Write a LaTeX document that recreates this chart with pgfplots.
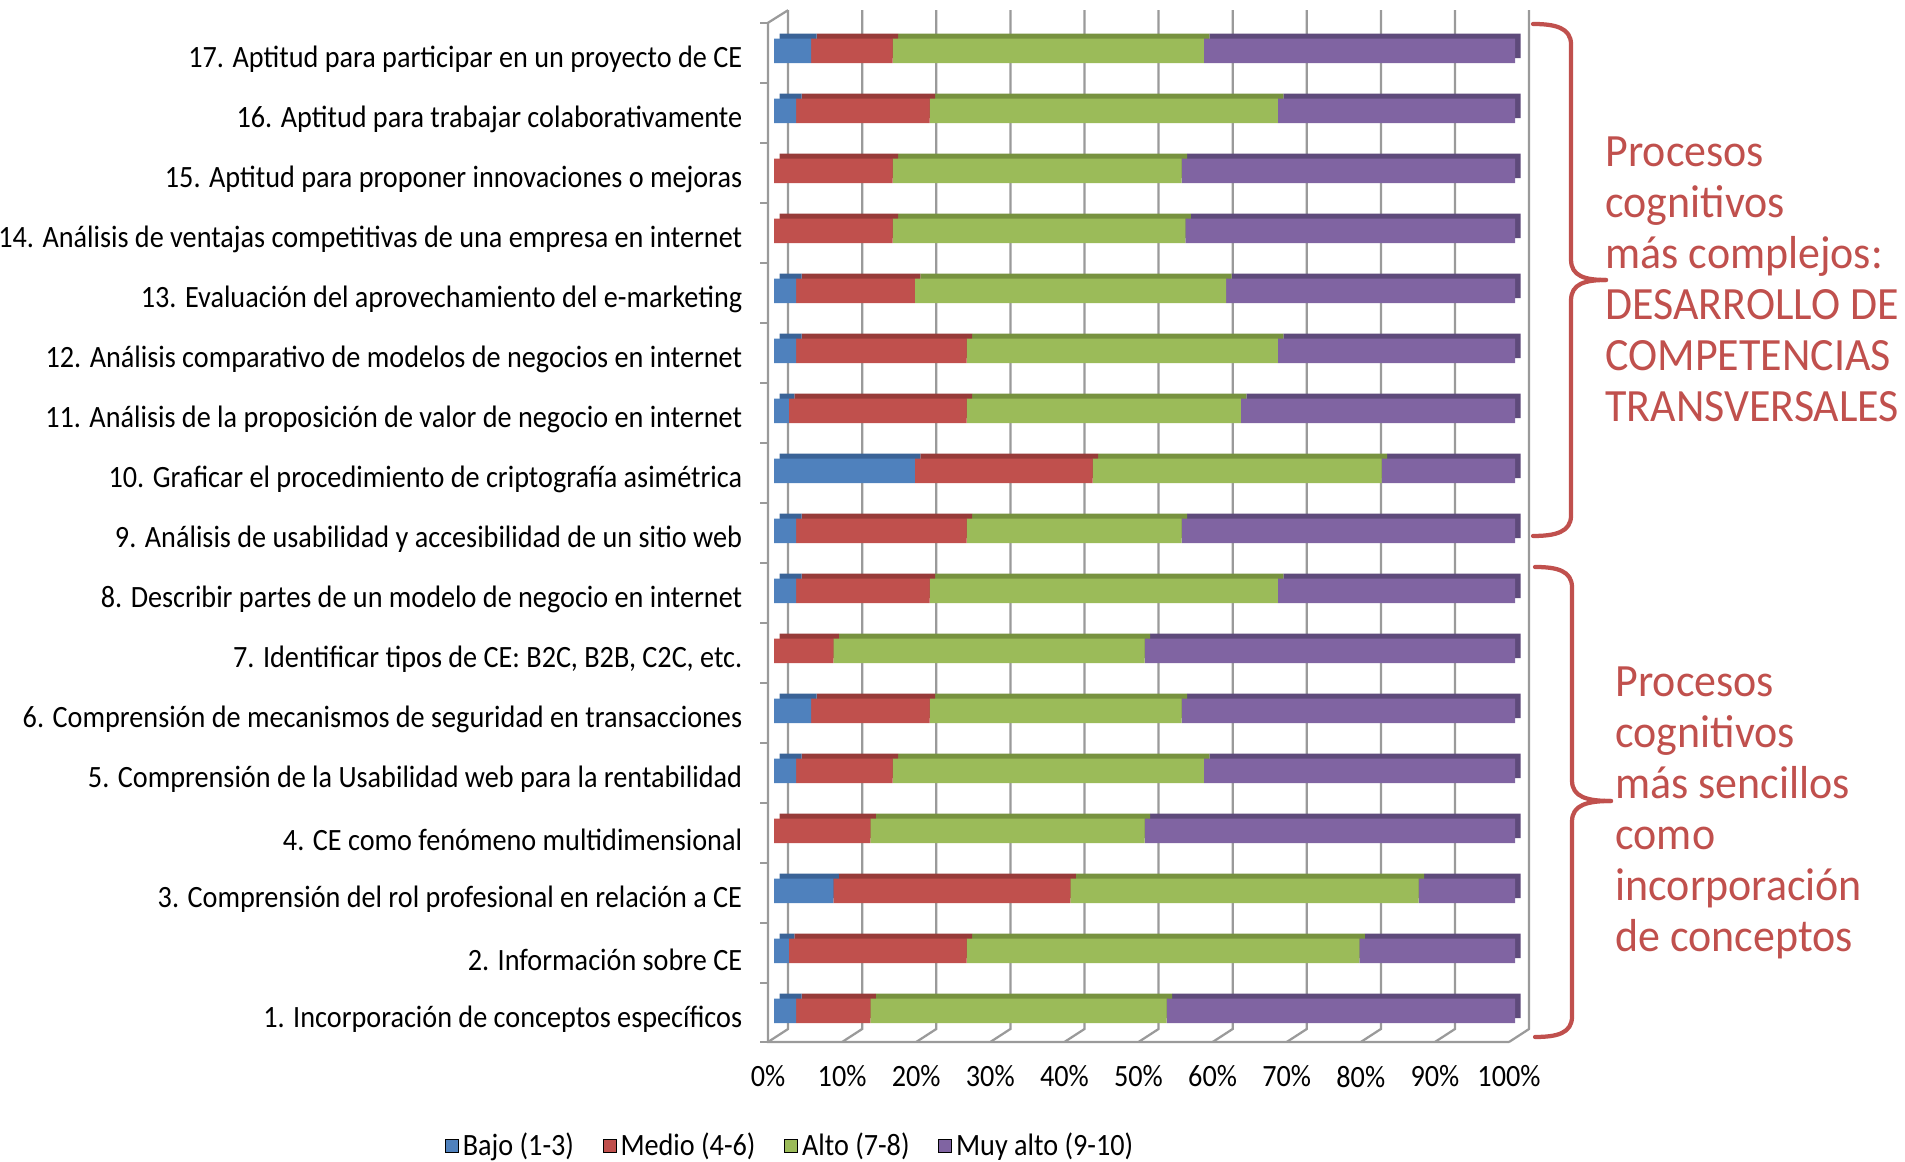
\documentclass[border=0pt]{standalone}
\usepackage{pgfplots}
\pgfplotsset{compat=1.18}
\usepackage{pgfplotstable}
\usepackage{fontspec}
\setmainfont{Carlito}[FakeStretch=0.91]
\newfontfamily\annfont{Carlito}[FakeStretch=0.95]
\definecolor{cB}{HTML}{4F81BD}
\definecolor{cM}{HTML}{C0504D}
\definecolor{cA}{HTML}{9BBB59}
\definecolor{cMA}{HTML}{8064A2}
\definecolor{dB}{HTML}{3A6397}
\definecolor{dM}{HTML}{973B39}
\definecolor{dA}{HTML}{77923F}
\definecolor{dMA}{HTML}{5E4A7B}
\definecolor{gridc}{HTML}{9A9A9A}
\definecolor{annot}{HTML}{C0504D}

\pgfplotstableread{
n b m a ma
1 3 10 40 47
2 2 24 53 21
3 8 32 47 13
4 0 13 37 50
5 3 13 42 42
6 5 16 34 45
7 0 8 42 50
8 3 18 47 32
9 3 23 29 45
10 19 24 39 18
11 2 24 37 37
12 3 23 42 32
13 3 16 42 39
14 0 16 39.5 44.5
15 0 16 39 45
16 3 18 47 32
17 5 11 42 42
}\datatable

\pgfplotsset{
  base/.style={scale only axis, width=296.4pt, height=408pt,
    xmin=0, xmax=100, ymin=0.5, ymax=17.5, anchor=south west, clip=false},
  bars/.style={base, xbar stacked, bar width=9.8pt, hide axis}
}

\begin{document}
\begin{tikzpicture}
\path[use as bounding box] (0,0) rectangle (762pt,464.8pt);

% frame, grid, labels, legend
\begin{axis}[base, at={(309.6pt,49.6pt)},
  axis line style={draw=none}, tick style={draw=none},
  major tick length=0pt,
  /pgf/number format/assume math mode=true,
  every tick label/.append style={font=\fontsize{12.4pt}{14pt}\selectfont},
  xtick={0,10,20,30,40,50,60,70,80,90,100},
  xticklabels={0\%,10\%,20\%,30\%,40\%,50\%,60\%,70\%,80\%,90\%,100\%},
  xticklabel style={yshift=-7.6pt, xshift=-2.4pt},
  ytick={1,...,17},
  yticklabels={
    1. Incorporación de conceptos específicos,
    2. Información sobre CE,
    3. Comprensión del rol profesional en relación a CE,
    4. CE como fenómeno multidimensional,
    5. Comprensión de la Usabilidad web para la rentabilidad,
    6. Comprensión de mecanismos de seguridad en transacciones,
    {7. Identificar tipos de CE: B2C, B2B, C2C, etc.},
    8. Describir partes de un modelo de negocio en internet,
    9. Análisis de usabilidad y accesibilidad de un sitio web,
    10. Graficar el procedimiento de criptografía asimétrica,
    11. Análisis de la proposición de valor de negocio en internet,
    12. Análisis comparativo de modelos de negocios en internet,
    13. Evaluación del aprovechamiento del e-marketing,
    14. Análisis de ventajas competitivas de una empresa en internet,
    15. Aptitud para proponer innovaciones o mejoras,
    16. Aptitud para trabajar colaborativamente,
    17. Aptitud para participar en un proyecto de CE},
  yticklabel style={xshift=-9.2pt, yshift=-4.6pt},
  legend columns=4,
  legend style={at={(0.023,-0.106)}, anchor=center, draw=none, fill=none,
    font=\fontsize{12.4pt}{14pt}\selectfont,
    /tikz/every even column/.append style={column sep=10pt},
    nodes={inner sep=1.5pt}},
  legend image code/.code={\fill[#1] (0pt,-2.6pt) rectangle (5.2pt,2.6pt);},
]
\addlegendimage{fill=cB}\addlegendentry{Bajo (1-3)}
\addlegendimage{fill=cM}\addlegendentry{Medio (4-6)}
\addlegendimage{fill=cA}\addlegendentry{Alto (7-8)}
\addlegendimage{fill=cMA}\addlegendentry{Muy alto (9-10)}
\foreach \kb/\kf in {1.9/-0.81,11.9/9.19,21.9/19.19,31.9/29.19,41.9/39.19,51.9/49.19,61.9/59.19,71.9/69.19,81.9/79.19,91.9/89.19,101.9/99.19}{
  \edef\tmp{\noexpand\draw[gridc, line width=0.9pt] (axis cs:\kb,17.63) -- (axis cs:\kb,0.65) -- (axis cs:\kf,0.433);}\tmp
}
\draw[gridc, line width=0.9pt] (axis cs:1.9,17.63) -- (axis cs:-0.81,17.42) -- (axis cs:-0.81,0.433) -- (axis cs:99.19,0.433);
\foreach \t in {0.433,1.42,2.42,3.42,4.42,5.42,6.42,7.42,8.42,9.42,10.42,11.42,12.42,13.42,14.42,15.42,16.42,17.42}{
  \edef\tmp{\noexpand\draw[gridc, line width=0.9pt] (axis cs:-0.81,\t) -- (axis cs:-1.9,\t);}\tmp
}
\end{axis}

% 3D top/side faces
\begin{axis}[bars, at={(311.8pt,50.4pt)}]
\addplot[fill=dB, draw=none] table[x=b, y=n] {\datatable};
\addplot[fill=dM, draw=none] table[x=m, y=n] {\datatable};
\addplot[fill=dA, draw=none] table[x=a, y=n] {\datatable};
\addplot[fill=dMA, draw=none] table[x=ma, y=n] {\datatable};
\end{axis}

% front faces
\begin{axis}[bars, at={(309.6pt,48.4pt)}]
\addplot[fill=cB, draw=none] table[x=b, y=n] {\datatable};
\addplot[fill=cM, draw=none] table[x=m, y=n] {\datatable};
\addplot[fill=cA, draw=none] table[x=a, y=n] {\datatable};
\addplot[fill=cMA, draw=none] table[x=ma, y=n] {\datatable};
\end{axis}

% braces
\begin{scope}[annot, line width=1.7pt, line cap=round]
\draw (613.2pt,455.2pt) .. controls (622pt,455.2pt) and (628.4pt,453.7pt) .. (628.4pt,447pt)
  -- (628.4pt,361pt) .. controls (628.4pt,354.3pt) and (634pt,352.8pt) .. (642.4pt,352.8pt);
\draw (642.4pt,352.8pt) .. controls (634pt,352.8pt) and (628.4pt,351.3pt) .. (628.4pt,344.6pt)
  -- (628.4pt,258.6pt) .. controls (628.4pt,251.9pt) and (622pt,250.4pt) .. (613.2pt,250.4pt);
\draw (614pt,238pt) .. controls (622.8pt,238pt) and (628.8pt,236.5pt) .. (628.8pt,229.8pt)
  -- (628.8pt,152.6pt) .. controls (628.8pt,145.9pt) and (635pt,144.4pt) .. (644.4pt,144.4pt);
\draw (644.4pt,144.4pt) .. controls (635pt,144.4pt) and (628.8pt,142.9pt) .. (628.8pt,136.2pt)
  -- (628.8pt,58.2pt) .. controls (628.8pt,51.5pt) and (622.8pt,50pt) .. (614pt,50pt);
\end{scope}

\node[anchor=base west, align=left, inner sep=0pt, text=annot,
  font=\annfont\fontsize{18.5pt}{20.4pt}\selectfont] at (642pt,296pt)
  {Procesos\\cognitivos\\más complejos:\\DESARROLLO DE\\COMPETENCIAS\\TRANSVERSALES};
\node[anchor=base west, align=left, inner sep=0pt, text=annot,
  font=\annfont\fontsize{18.5pt}{20.4pt}\selectfont] at (646pt,84pt)
  {Procesos\\cognitivos\\más sencillos\\como\\incorporación\\de conceptos};
\end{tikzpicture}
\end{document}
